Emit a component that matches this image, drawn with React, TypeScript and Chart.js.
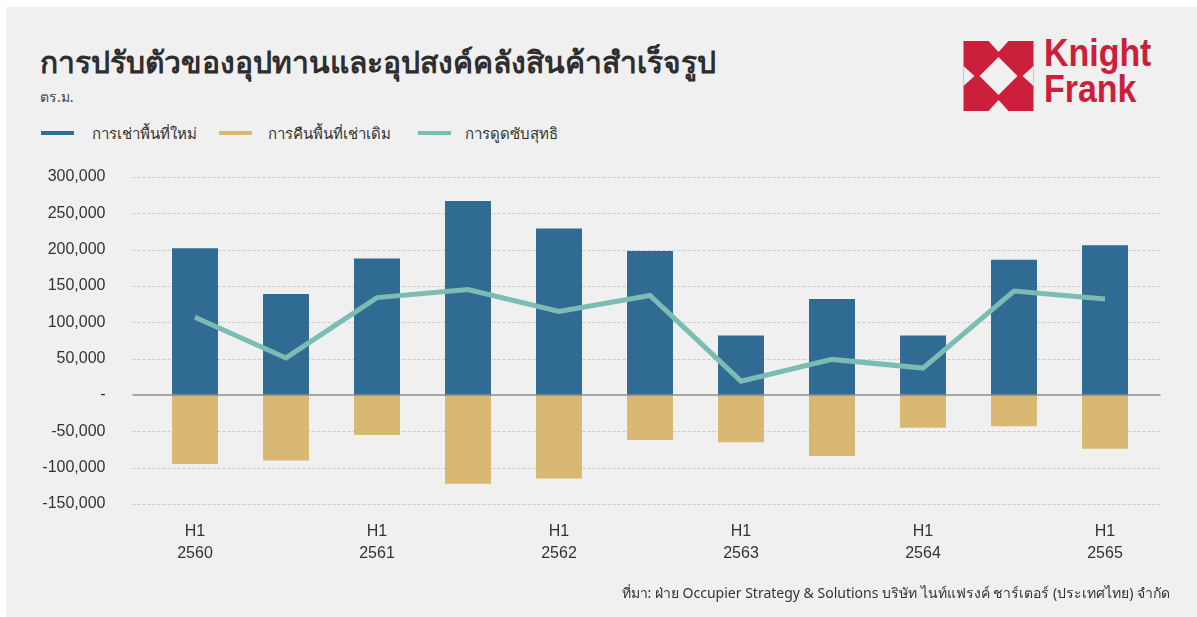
import React, { useEffect, useRef } from 'react';
import { Chart, registerables } from 'chart.js';

Chart.register(...registerables);

const categories = [
  'H1 2560', 'H2 2560', 'H1 2561', 'H2 2561', 'H1 2562', 'H2 2562',
  'H1 2563', 'H2 2563', 'H1 2564', 'H2 2564', 'H1 2565',
];
const newLeasing = [202000, 139000, 188000, 267000, 229000, 198000, 82000, 132000, 82000, 186000, 206000];
const returnedSpace = [-95000, -90000, -55000, -122000, -115000, -62000, -65000, -84000, -45000, -43000, -74000];
const netAbsorption = [107000, 51000, 134000, 145000, 115000, 137000, 19000, 49000, 37000, 143000, 132000];
const seriesNames = ['การเช่าพื้นที่ใหม่', 'การคืนพื้นที่เช่าเดิม', 'การดูดซับสุทธิ'];
const yMin = -150000;
const yMax = 300000;
const yStep = 50000;

const BLUE = '#2f6b93';
const TAN = '#d8b873';
const TEAL = '#7bbcb3';
const BG = '#eff0ef';
const TEXT = '#333333';

const gridPlugin = {
  id: 'extendedGrid',
  beforeDatasetsDraw(chart: any) {
    const { ctx, chartArea } = chart;
    const y = chart.scales.y;
    const x0 = chartArea.left - 17;
    const x1 = chartArea.right + 10;
    ctx.save();
    ctx.strokeStyle = '#c9cac9';
    ctx.lineWidth = 1;
    ctx.setLineDash([3, 2]);
    y.ticks.forEach((t: any) => {
      if (t.value === 0) return;
      const py = Math.round(y.getPixelForValue(t.value)) + 0.5;
      ctx.beginPath();
      ctx.moveTo(x0, py);
      ctx.lineTo(x1, py);
      ctx.stroke();
    });
    ctx.restore();
  },
  afterDatasetsDraw(chart: any) {
    const { ctx, chartArea } = chart;
    const y = chart.scales.y;
    const x0 = chartArea.left - 17;
    const x1 = chartArea.right + 10;
    const py = y.getPixelForValue(0);
    ctx.save();
    ctx.strokeStyle = '#8c8c8c';
    ctx.lineWidth = 1.5;
    ctx.beginPath();
    ctx.moveTo(x0, py);
    ctx.lineTo(x1, py);
    ctx.stroke();
    ctx.restore();
  },
};

function Logo() {
  return (
    <div style={{ position: 'absolute', left: 963, top: 40, width: 200, height: 72 }}>
      <svg width="71" height="70" viewBox="0 0 70 70" style={{ position: 'absolute', left: 0, top: 1 }}>
        <rect x="0" y="0" width="70" height="70" fill="#cc1f3b" />
        <polygon points="35,16 54,35 35,54 16,35" fill={BG} />
        <polygon points="25,0 45,0 35,11" fill={BG} />
        <polygon points="25,70 45,70 35,59" fill={BG} />
        <polygon points="0,25 0,45 11,35" fill={BG} />
        <polygon points="70,25 70,45 59,35" fill={BG} />
      </svg>
      <div
        style={{
          position: 'absolute',
          left: 81,
          top: -5,
          color: '#cc1f3b',
          fontFamily: '"Liberation Sans", Arial, sans-serif',
          fontWeight: 700,
          fontSize: 39,
          lineHeight: '36px',
          transform: 'scaleX(0.87)',
          transformOrigin: 'left top',
        }}
      >
        <div>Knight</div>
        <div>Frank</div>
      </div>
    </div>
  );
}

export default function App() {
  const canvasRef = useRef<HTMLCanvasElement | null>(null);

  useEffect(() => {
    if (!canvasRef.current) return;
    const chart = new Chart(canvasRef.current, {
      type: 'bar',
      data: {
        labels: categories,
        datasets: [
          {
            type: 'line',
            label: seriesNames[2],
            data: netAbsorption,
            borderColor: TEAL,
            backgroundColor: TEAL,
            borderWidth: 5,
            pointRadius: 0,
            tension: 0,
            order: 0,
          } as any,
          {
            type: 'bar',
            label: seriesNames[0],
            data: newLeasing,
            backgroundColor: BLUE,
            barPercentage: 0.505,
            categoryPercentage: 1,
            order: 1,
          },
          {
            type: 'bar',
            label: seriesNames[1],
            data: returnedSpace,
            backgroundColor: TAN,
            barPercentage: 0.505,
            categoryPercentage: 1,
            order: 2,
          },
        ],
      },
      options: {
        responsive: false,
        animation: false,
        devicePixelRatio: 1,
        layout: { padding: { left: 0, right: 46.5, top: 177, bottom: 53 } },
        plugins: {
          legend: { display: false },
          tooltip: { enabled: false },
          title: { display: false },
        },
        scales: {
          x: {
            stacked: true,
            grid: { display: false, drawTicks: false },
            border: { display: false },
            ticks: {
              autoSkip: false,
              maxRotation: 0,
              minRotation: 0,
              padding: 17,
              color: TEXT,
              font: { family: '"Liberation Sans", Arial, sans-serif', size: 16, lineHeight: 1.35 },
              callback: (_v: any, i: number) => {
                if (i % 2 !== 0) return '';
                return categories[i].split(' ');
              },
            },
            afterFit: (s: any) => {
              s.height = 60;
            },
          },
          y: {
            stacked: false,
            min: yMin,
            max: yMax,
            grid: { display: false, drawTicks: false },
            border: { display: false },
            ticks: {
              stepSize: yStep,
              padding: 44,
              color: TEXT,
              font: { family: '"Liberation Sans", Arial, sans-serif', size: 16 },
              callback: (v: any) => (Number(v) === 0 ? '-' : Number(v).toLocaleString('en-US')),
            },
            afterFit: (s: any) => {
              s.width = 149.5;
            },
          },
        },
      },
      plugins: [gridPlugin],
    });
    return () => chart.destroy();
  }, []);

  const legendItems = [
    { name: seriesNames[0], color: BLUE, x: 41, tx: 92 },
    { name: seriesNames[1], color: TAN, x: 219, tx: 268 },
    { name: seriesNames[2], color: TEAL, x: 418, tx: 465 },
  ];

  return (
    <div
      style={{
        position: 'absolute',
        left: 0,
        top: 0,
        width: 1197,
        height: 617,
        background: '#ffffff',
        overflow: 'hidden',
        fontFamily: '"Noto Sans", "Liberation Sans", sans-serif',
      }}
    >
      <div style={{ position: 'absolute', left: 6, top: 7, width: 1191, height: 610, background: BG }} />
      <div
        style={{
          position: 'absolute',
          left: 40,
          top: 42,
          fontSize: 30,
          fontWeight: 700,
          color: '#2e2e2e',
          whiteSpace: 'nowrap',
          lineHeight: '40px',
        }}
      >
        การปรับตัวของอุปทานและอุปสงค์คลังสินค้าสำเร็จรูป
      </div>
      <div style={{ position: 'absolute', left: 40, top: 87, fontSize: 14, color: '#444', lineHeight: '20px' }}>ตร.ม.</div>
      {legendItems.map((it) => (
        <React.Fragment key={it.name}>
          <div style={{ position: 'absolute', left: it.x, top: 131, width: 33, height: 4, background: it.color }} />
          <div
            style={{
              position: 'absolute',
              left: it.tx,
              top: 122,
              fontSize: 15,
              color: TEXT,
              lineHeight: '22px',
              whiteSpace: 'nowrap',
            }}
          >
            {it.name}
          </div>
        </React.Fragment>
      ))}
      <Logo />
      <canvas
        ref={canvasRef}
        width={1197}
        height={617}
        style={{ position: 'absolute', left: 0, top: 0, width: 1197, height: 617 }}
      />
      <div
        style={{
          position: 'absolute',
          right: 27,
          top: 583,
          fontSize: 14,
          color: TEXT,
          whiteSpace: 'nowrap',
          lineHeight: '20px',
        }}
      >
        ที่มา: ฝ่าย Occupier Strategy &amp; Solutions บริษัท ไนท์แฟรงค์ ชาร์เตอร์ (ประเทศไทย) จำกัด
      </div>
    </div>
  );
}
